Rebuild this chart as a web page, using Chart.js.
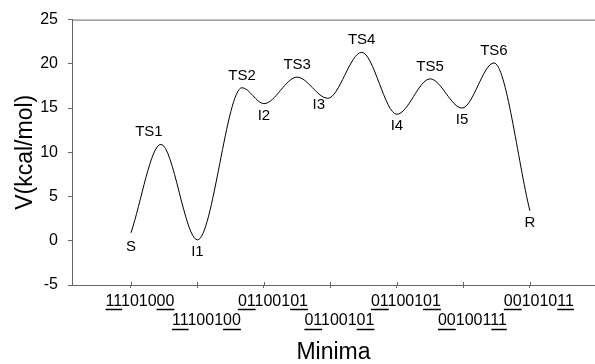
<!DOCTYPE html>
<html><head><meta charset="utf-8">
<script src="https://cdn.jsdelivr.net/npm/chart.js@4/dist/chart.umd.min.js"></script>
<style>html,body{margin:0;padding:0;background:#fff}#wrap{width:595px;height:364px;position:relative}</style>
</head><body><div id="wrap"><canvas id="c"></canvas></div>
<script>
// ---- data ----
const pointNames = ['S','TS1','I1','TS2','I2','TS3','I3','TS4','I4','TS5','I5','TS6','R'];
const pointPos   = [0, 0.45, 1.0, 1.67, 2.0, 2.5, 2.96, 3.47, 4.0, 4.5, 4.98, 5.46, 6.0];
const energies   = [0.9, 10.9, 0.1, 17.3, 15.5, 18.5, 16.1, 21.3, 14.3, 18.3, 15.0, 20.1, 3.4];
const minimaTicks  = [0, 1, 2, 3, 4, 5, 6];
const minimaLabels = ['11101000','11100100','01100101','01100101','01100101','00100111','00101011'];
const yTicks = [-5, 0, 5, 10, 15, 20, 25];

const FONT = "'Liberation Sans', Arial, sans-serif";
const AXIS = '#666';
const LABEL_OFFSET = 9;

// label nudges (layout only)
const labelNudge = {TS1:[-12,0], I3:[-9,-5], S:[0,2]};

const annotate = {
  id: 'annotate',
  afterDraw(chart) {
    const ctx = chart.ctx, xs = chart.scales.x, ys = chart.scales.y, ca = chart.chartArea;
    ctx.save();
    // top frame line
    ctx.strokeStyle = AXIS; ctx.lineWidth = 1;
    ctx.beginPath(); ctx.moveTo(ca.left, ca.top + 0.5); ctx.lineTo(ca.right, ca.top + 0.5); ctx.stroke();
    // crossing x ticks (inner part)
    minimaTicks.forEach(v => {
      const px = Math.round(xs.getPixelForValue(v)) + 0.5;
      ctx.beginPath(); ctx.moveTo(px, ca.bottom - 3); ctx.lineTo(px, ca.bottom); ctx.stroke();
    });
    // point labels
    ctx.fillStyle = '#000';
    ctx.font = '15px ' + FONT;
    ctx.textAlign = 'center'; ctx.textBaseline = 'middle';
    pointNames.forEach((n, i) => {
      const px = xs.getPixelForValue(pointPos[i]);
      const py = ys.getPixelForValue(energies[i]);
      const above = n.startsWith('TS');
      const nd = labelNudge[n] || [0, 0];
      ctx.fillText(n, px + nd[0], py + (above ? -12 : 12) + nd[1]);
    });
    // underlines of tick labels (first two and last two digits)
    const items = xs.getLabelItems();
    ctx.lineWidth = 1.4; ctx.strokeStyle = '#000';
    items.forEach(it => {
      const lines = Array.isArray(it.label) ? it.label : [it.label];
      const f = it.font;
      ctx.font = f.string;
      const x = it.options.translation[0];
      const y0 = it.options.translation[1] + it.textOffset;
      lines.forEach((t, li) => {
        if (!t) return;
        const w = ctx.measureText(t).width;
        const start = x - w / 2;
        const yy = Math.round(y0 + li * f.lineHeight + f.size * 0.36 + 2) + 0.5;
        const w2 = ctx.measureText(t.slice(0, 2)).width;
        const w6 = ctx.measureText(t.slice(0, t.length - 2)).width;
        ctx.beginPath();
        ctx.moveTo(start, yy); ctx.lineTo(start + w2, yy);
        ctx.moveTo(start + w6, yy); ctx.lineTo(start + w, yy);
        ctx.stroke();
      });
    });
    ctx.restore();
  }
};

new Chart(document.getElementById('c'), {
  type: 'line',
  data: {
    datasets: [{
      data: pointPos.map((x, i) => ({x, y: energies[i]})),
      borderColor: '#000',
      borderWidth: 1,
      pointRadius: 0,
      cubicInterpolationMode: 'monotone',
      fill: false
    }]
  },
  options: {
    responsive: true,
    maintainAspectRatio: false,
    devicePixelRatio: 1,
    animation: false,
    events: [],
    layout: {padding: {top: 18, right: 0, left: 0, bottom: 0}},
    plugins: {legend: {display: false}, tooltip: {enabled: false}},
    scales: {
      x: {
        type: 'linear',
        min: -0.887, max: 6.98,
        afterBuildTicks: s => { s.ticks = minimaTicks.map(v => ({value: v})); },
        afterFit: s => { s.height = 79; },
        border: {color: AXIS, width: 1},
        grid: {drawOnChartArea: false, tickLength: 3, color: AXIS},
        ticks: {
          color: '#000',
          font: {family: FONT, size: 16, lineHeight: 1.2},
          padding: 4,
          labelOffset: LABEL_OFFSET,
          maxRotation: 0,
          autoSkip: false,
          callback: (v) => {
            const i = minimaTicks.indexOf(v);
            if (i < 0) return '';
            return i % 2 === 0 ? [minimaLabels[i], ''] : ['', minimaLabels[i]];
          }
        },
        title: {display: true, text: 'Minima', color: '#000', font: {family: FONT, size: 23, lineHeight: 1.0}, padding: {top: 0, bottom: 0}}
      },
      y: {
        min: -5, max: 25,
        afterBuildTicks: s => { s.ticks = yTicks.map(v => ({value: v})); },
        afterFit: s => { s.width = 72; },
        border: {color: AXIS, width: 1},
        grid: {drawOnChartArea: false, tickLength: 4, color: AXIS},
        ticks: {color: '#000', font: {family: FONT, size: 16}, padding: 10},
        title: {display: true, text: 'V(kcal/mol)', color: '#000', font: {family: FONT, size: 23, lineHeight: 1.0}, padding: {top: 14, bottom: 0}}
      }
    }
  },
  plugins: [annotate]
});
</script>
</body></html>
